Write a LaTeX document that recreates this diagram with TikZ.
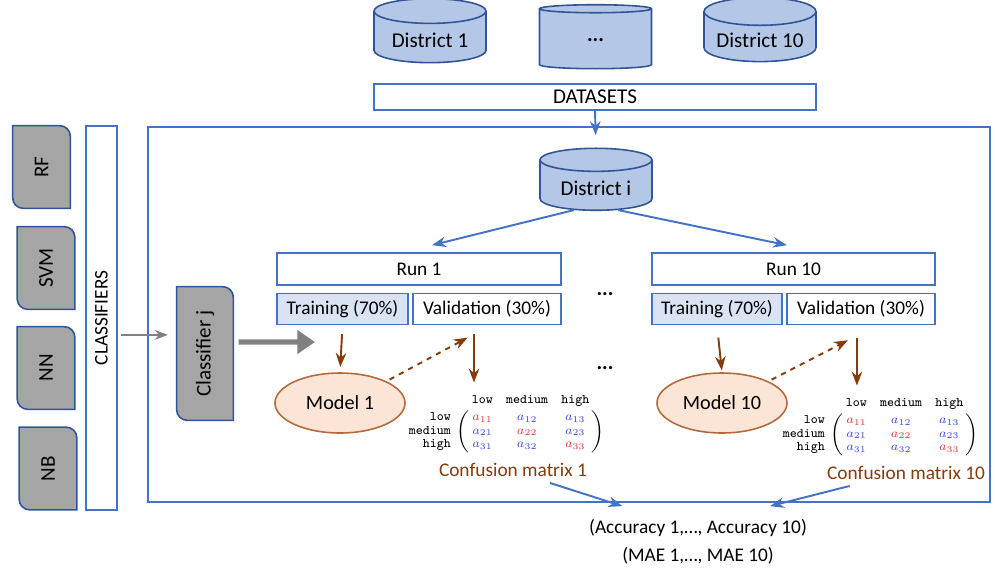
\documentclass[tikz,border=0pt]{standalone}
\usepackage{fontspec}
\setmainfont{Carlito}
\usepackage{xcolor}
\definecolor{boxblue}{HTML}{4472C4}
\definecolor{darkblue}{HTML}{2F5597}
\definecolor{cylblue}{HTML}{B4C7E7}
\definecolor{lightblue}{HTML}{DAE3F3}
\definecolor{tabgray}{HTML}{A5A5A5}
\definecolor{modelfill}{HTML}{FBE5D6}
\definecolor{modeledge}{HTML}{B5693A}
\definecolor{darkbrown}{HTML}{843C0C}
\definecolor{matred}{HTML}{E8323C}
\definecolor{matblue}{HTML}{3C46E6}
\usetikzlibrary{
    arrows.meta,
    shapes.geometric,
    positioning,
    calc,
    backgrounds
}
\tikzstyle{dataset} = [
    cylinder,
    shape border rotate=90,
    aspect=0.28,
    draw=darkblue,
    line width=0.9pt,
    fill=cylblue,
    minimum width=2.24cm,
    minimum height=1.28cm,
    font=\fontsize{12}{14}\selectfont
]
\tikzstyle{bar} = [
    rectangle,
    draw=boxblue,
    line width=0.9pt,
    fill=white,
    inner sep=0pt,
    font=\fontsize{11}{13}\selectfont
]
\tikzstyle{split} = [
    bar,
    minimum height=0.62cm
]
\tikzstyle{model} = [
    ellipse,
    draw=modeledge,
    line width=0.9pt,
    fill=modelfill,
    minimum width=2.6cm,
    minimum height=1.2cm,
    font=\fontsize{11.5}{14}\selectfont
]
\tikzstyle{tab} = [
    rectangle,
    inner sep=0pt,
    minimum width=1.14cm,
    minimum height=1.64cm,
    font=\fontsize{12}{14}\selectfont
]
\tikzstyle{tabfill} = [
    draw=darkblue,
    line width=0.9pt,
    fill=tabgray
]
\tikzstyle{confmat} = [
    inner sep=0pt,
    font=\fontsize{7.5}{7.6}\selectfont
]
\tikzstyle{caption} = [
    text=darkbrown,
    font=\fontsize{11}{13}\selectfont
]
\tikzstyle{result} = [
    font=\fontsize{11}{13}\selectfont
]
\tikzstyle{arrow} = [
    ->,
    >=Stealth,
    line width=1.1pt,
    draw=boxblue
]
\tikzstyle{brownarrow} = [
    ->,
    >=Stealth,
    line width=1.1pt,
    draw=darkbrown
]
\tikzstyle{flow} = [
    ->,
    >=Stealth,
    line width=1pt,
    draw=gray
]
\tikzstyle{bigflow} = [
    -{Triangle[length=10pt,width=13pt]},
    line width=3pt,
    draw=gray
]
\newcommand{\confusionmatrix}{$\bordermatrix{
    & \texttt{low} & \texttt{medium} & \texttt{high}\cr
    \hfill\texttt{low} & \color{matred}a_{11} & \color{matblue}a_{12} & \color{matblue}a_{13}\cr
    \hfill\texttt{medium} & \color{matblue}a_{21} & \color{matred}a_{22} & \color{matblue}a_{23}\cr
    \hfill\texttt{high} & \color{matblue}a_{31} & \color{matblue}a_{32} & \color{matred}a_{33}\cr}$}

\begin{document}
\begin{tikzpicture}[x=0.02cm, y=-0.02cm]
        \useasboundingbox (0,0) rectangle (995,569);

        % Datasets
        \node[dataset] (d1) at (430,40) {District 1};
        \node[dataset] (dd) at (595.5,40) {\textbf{...}};
        \node[dataset] (d10) at (760,40) {District 10};
        \node[bar, minimum width=8.84cm, minimum height=0.52cm, font=\fontsize{12}{14}\selectfont] (datasets) at (595,97) {DATASETS};

        % Classifiers
        \node[tab] (rf) at (41.5,167) {\rotatebox{90}{RF}};
        \node[tab] (svm) at (46,268) {\rotatebox{90}{SVM}};
        \node[tab] (nn) at (46,368) {\rotatebox{90}{NN}};
        \node[tab] (nb) at (48,468.5) {\rotatebox{90}{NB}};
        \node[bar, minimum width=0.62cm, minimum height=7.68cm] (classifiers) at (101.5,318) {\rotatebox{90}{CLASSIFIERS}};
        \node[tab, minimum width=1.12cm, minimum height=2.66cm] (clfj) at (205,353.5) {\rotatebox{90}{Classifier j}};

        % Experiment
        \node[draw=boxblue, line width=1.2pt, minimum width=16.84cm, minimum height=7.5cm] (frame) at (569,314.5) {};
        \node[dataset, minimum height=1.24cm] (disti) at (596,188) {District i};

        \node[bar, minimum width=5.68cm, minimum height=0.64cm] (run1) at (419,269) {Run 1};
        \node[split, fill=lightblue, minimum width=2.62cm, below=0.14cm of run1.south west, anchor=north west] (train1) {Training (70\%)};
        \node[split, minimum width=2.96cm, below=0.14cm of run1.south east, anchor=north east] (val1) {Validation (30\%)};

        \node[bar, minimum width=5.66cm, minimum height=0.64cm] (run10) at (793.5,269) {Run 10};
        \node[split, fill=lightblue, minimum width=2.6cm, below=0.14cm of run10.south west, anchor=north west] (train10) {Training (70\%)};
        \node[split, minimum width=2.96cm, below=0.14cm of run10.south east, anchor=north east] (val10) {Validation (30\%)};

        \node[font=\fontsize{12}{14}\selectfont] (dots1) at (605,294) {\textbf{...}};
        \node[font=\fontsize{12}{14}\selectfont] (dots2) at (605,368) {\textbf{...}};

        \node[model] (model1) at (340,403) {Model 1};
        \node[model] (model10) at (722,403) {Model 10};

        \node[confmat] (mat1) at (506,423) {\confusionmatrix};
        \node[confmat] (mat10) at (880,426) {\confusionmatrix};

        \node[caption] (cm1) at (513,470) {Confusion matrix 1};
        \node[caption] (cm10) at (906,473) {Confusion matrix 10};

        \node[result] (acc) at (698,528) {(Accuracy 1,…, Accuracy 10)};
        \node[result] (mae) at (698,556) {(MAE 1,…, MAE 10)};

        % Tab outlines
        \begin{scope}[on background layer]
            \foreach \n in {rf,svm,nn,nb,clfj}
                \draw[tabfill] (\n.north west) -- ([xshift=-6pt]\n.north east) to[out=0,in=90] ([yshift=-6pt]\n.north east)
                    -- (\n.south east) -- ([xshift=6pt]\n.south west) to[out=180,in=270] ([yshift=6pt]\n.south west) -- cycle;
        \end{scope}

        % Connectors
        \coordinate (clsout) at ([yshift=-9.6pt]classifiers.east);
        \coordinate (clfout) at ([yshift=6.5pt]clfj.east);
        \coordinate (clfend) at (315,342);
        \draw[flow, shorten <=2pt, shorten >=5pt] (clsout) -- (clsout -| clfj.west);
        \draw[bigflow, shorten <=3pt] (clfout) -- (clfend);

        \draw[arrow, shorten >=7pt] (datasets.south) -- (disti.north);
        \draw[arrow] (disti.south west) -- ([xshift=7.4pt,yshift=4pt]run1.north);
        \draw[arrow] (disti.south east) -- ([xshift=-3.7pt,yshift=4pt]run10.north);

        \draw[brownarrow, shorten <=5pt, shorten >=3pt] (train1.south) -- (model1.north);
        \draw[brownarrow, shorten <=5pt, shorten >=6pt] ([xshift=-7.4pt]val1.south) -- ([xshift=-7.4pt]val1.south |- mat1.north);
        \draw[brownarrow, dashed, shorten <=2pt] (model1.north east) -- ([xshift=-11pt,yshift=-7pt]val1.south);

        \draw[brownarrow, shorten <=7pt, shorten >=1pt] (train10.south) -- (model10.north);
        \draw[brownarrow, shorten <=7pt, shorten >=6pt] ([xshift=-2.3pt]val10.south) -- ([xshift=-2.3pt]val10.south |- mat10.north);
        \draw[brownarrow, dashed, shorten <=2pt] (model10.north east) -- ([xshift=-7.4pt,yshift=-8.5pt]val10.south);

        \draw[arrow] ([xshift=21pt]cm1.south) -- ([xshift=-43pt,yshift=4pt]acc.north);
        \draw[arrow] ([xshift=-32pt]cm10.south) -- ([xshift=41pt,yshift=4pt]acc.north);
\end{tikzpicture}
\end{document}
